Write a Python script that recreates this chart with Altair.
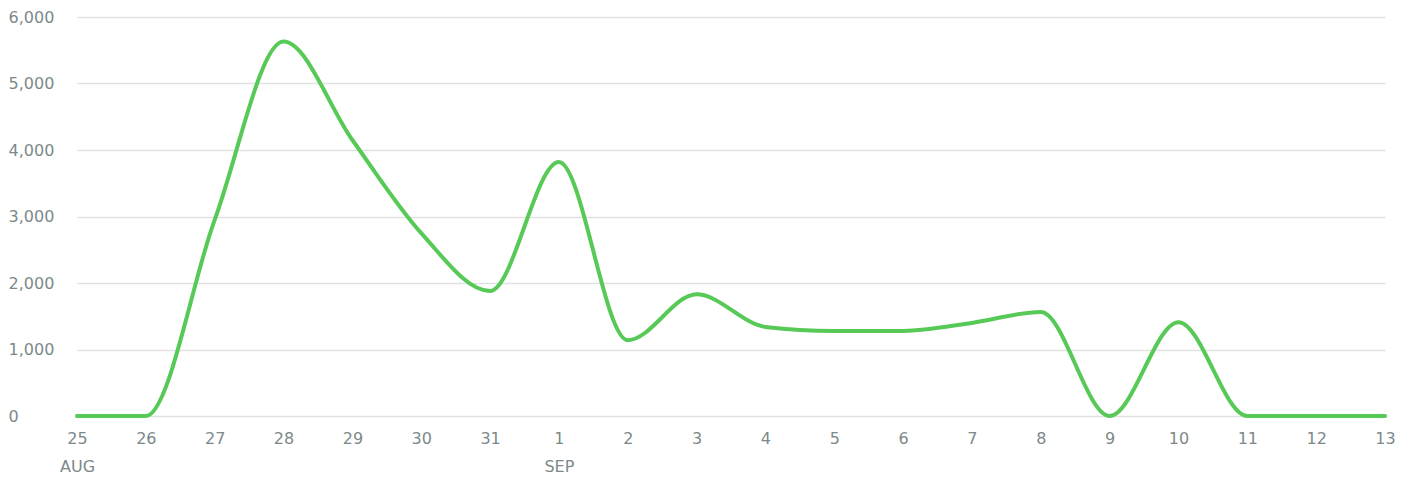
import json
import altair as alt
import pandas as pd

days = ["25", "26", "27", "28", "29", "30", "31", "1", "2", "3", "4", "5",
        "6", "7", "8", "9", "10", "11", "12", "13"]
months = ["AUG", "", "", "", "", "", "", "SEP", "", "", "", "", "", "", "", "", "", "", "", ""]
values = [0, 0, 2950, 5630, 4150, 2750, 1880, 3820, 1140, 1830, 1340, 1280,
          1280, 1400, 1565, 0, 1410, 0, 0, 0]
y_ticks = [0, 1000, 2000, 3000, 4000, 5000, 6000]

df = pd.DataFrame({"i": list(range(len(days))), "v": values})

label_list = [[d, m] if m else d for d, m in zip(days, months)]
label_expr = json.dumps(label_list).replace('"', "'") + "[datum.value]"

chart = alt.Chart(df).mark_line(
    interpolate="monotone", color="#57c957", strokeWidth=4, strokeCap="round"
).encode(
    x=alt.X(
        "i:Q",
        scale=alt.Scale(domain=[0, len(days) - 1], nice=False, zero=False),
        axis=alt.Axis(
            values=list(range(len(days))), labelExpr=label_expr, grid=False,
            domain=False, ticks=False, tickSize=0, labelPadding=14, title=None,
            labelFlush=False, labelOverlap=False,
        ),
    ),
    y=alt.Y(
        "v:Q",
        scale=alt.Scale(domain=[0, 6000], nice=False),
        axis=alt.Axis(
            values=y_ticks, format=",.0f", grid=True, domain=False, ticks=False,
            tickSize=0, labelAlign="left", labelPadding=69, title=None,
            gridColor="#e1e1e1", gridWidth=1.5,
        ),
    ),
).properties(
    width=1308, height=399,
    padding={"left": 0, "top": 1, "right": 0, "bottom": 0},
).configure_axis(
    labelFont="DejaVu Sans", labelFontSize=16, labelColor="#7c8989", labelLineHeight=28
).configure_view(stroke=None)

chart.save("out.html", embed_options={"renderer": "svg", "actions": False})
